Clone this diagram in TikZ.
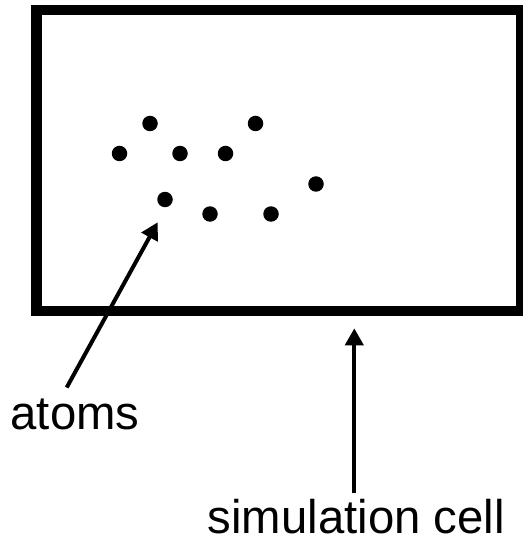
\documentclass[tikz,border=0pt]{standalone}
\usepackage{fontspec}
\setmainfont{Liberation Sans}
\usetikzlibrary{arrows.meta}
\begin{document}
\begin{tikzpicture}[x=1pt,y=-1pt,
  atom/.style={circle,fill=black,inner sep=0pt,minimum size=15.5pt},
  lbl/.style={inner sep=0pt,anchor=base west,text depth=0pt,font=\fontsize{47.3}{50}\selectfont},
  ptr/.style={line width=4pt,-{Triangle[length=17pt,width=18pt]}}]
\useasboundingbox (0,0) rectangle (522,537);
\draw[line width=10.5pt] (36.5,10) rectangle (521,311);
\node[atom] (a1) at (150,123.5) {};
\node[atom] (a2) at (255.5,123.5) {};
\node[atom] (a3) at (119.5,153.5) {};
\node[atom] (a4) at (180,153.5) {};
\node[atom] (a5) at (225.5,153.5) {};
\node[atom] (a6) at (316,184) {};
\node[atom] (a7) at (165,199.5) {};
\node[atom] (a8) at (210,214) {};
\node[atom] (a9) at (271,214) {};
\node[lbl] (atoms) at (10.5,429) {atoms};
\node[lbl] (cell) at (207.5,533) {simulation cell};
\coordinate (t1) at (66.7,387.5);
\coordinate (h1) at (157.7,222.3);
\coordinate (t2) at (354.3,493.3);
\coordinate (h2) at (354.3,328.3);
\draw[ptr] (t1) -- (h1);
\draw[ptr] (t2) -- (h2);
\end{tikzpicture}
\end{document}
